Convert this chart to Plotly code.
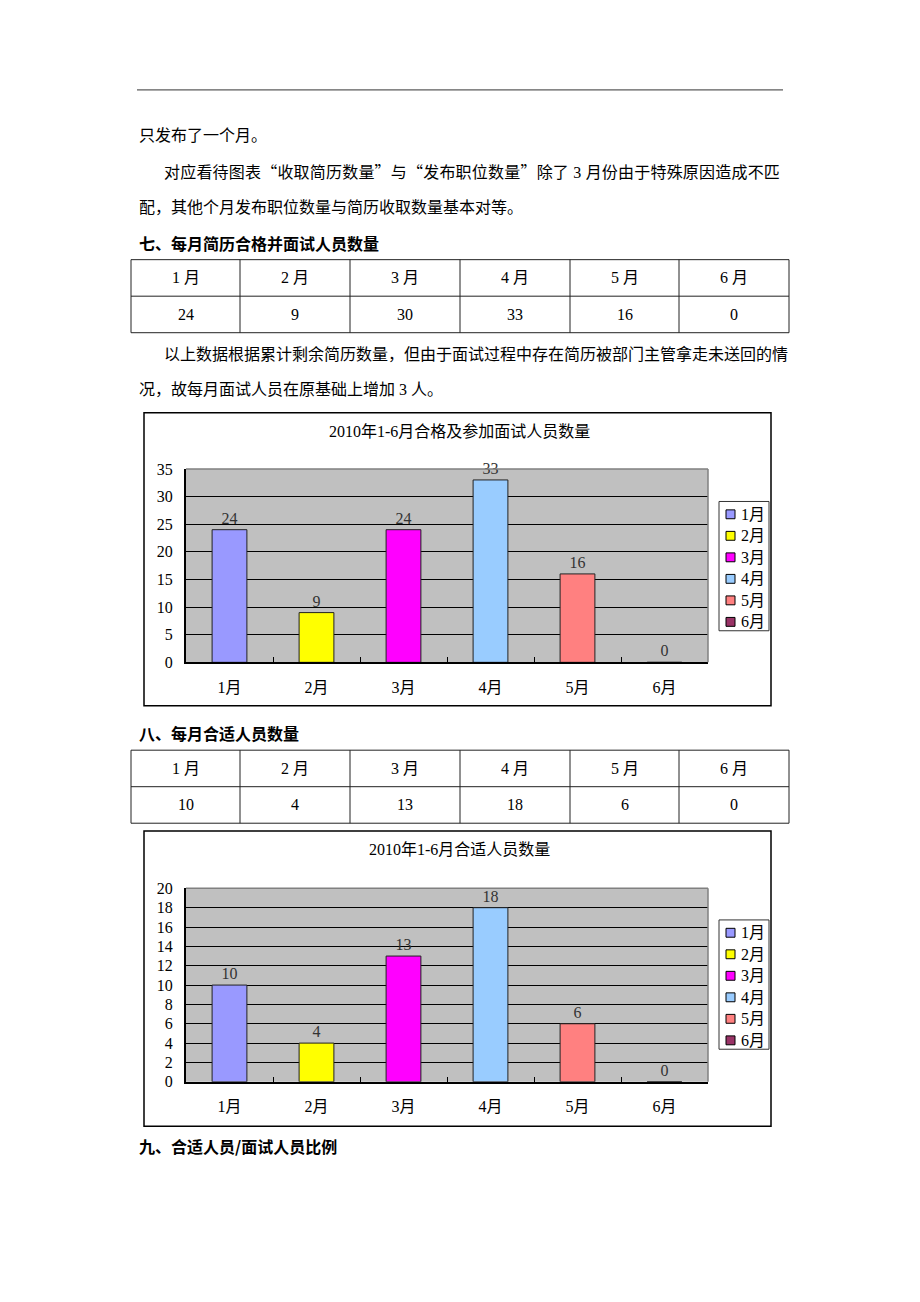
import plotly.graph_objects as go

W, H = 920, 1302

# ---------------- data ----------------
months = ["1月", "2月", "3月", "4月", "5月", "6月"]
table_months = ["1 月", "2 月", "3 月", "4 月", "5 月", "6 月"]
interview_table_values = [24, 9, 30, 33, 16, 0]
interview_chart_values = [24, 9, 24, 33, 16, 0]
suitable_values = [10, 4, 13, 18, 6, 0]
bar_colors = ["#9999FF", "#FFFF00", "#FF00FF", "#99CCFF", "#FF8080", "#993366"]
chart1_title = "2010年1-6月合格及参加面试人员数量"
chart2_title = "2010年1-6月合适人员数量"

QL = '<span style="font-family:Noto Sans CJK SC">“</span>'
QR = '<span style="font-family:Noto Sans CJK SC">”</span>'

body_lines = [
    ("只发布了一个月。", 137, 129, False, 0),
    (f"对应看待图表{QL}收取简历数量{QR}与{QL}发布职位数量{QR}除了 3 月份由于特殊原因造成不匹", 162, 165, False, 0.2),
    ("配，其他个月发布职位数量与简历收取数量基本对等。", 137, 202, False, 0),
    ("七、每月简历合格并面试人员数量", 137, 238, True, 0),
    ("以上数据根据累计剩余简历数量，但由于面试过程中存在简历被部门主管拿走未送回的情", 162, 351, False, 0),
    ("况，故每月面试人员在原基础上增加 3 人。", 137, 387, False, 0),
    ("八、每月合适人员数量", 137, 735, True, 0),
    ("九、合适人员/面试人员比例", 137, 1153, True, 0),
]

SERIF = "Liberation Serif, Noto Sans CJK SC, serif"
SANS_B = "Noto Sans CJK SC, sans-serif"


def fx(x):
    return x / W


def fy(y):
    return 1 - y / H


fig = go.Figure()
shapes = []
annotations = []

# header rule
shapes.append(dict(type="line", xref="paper", yref="paper", x0=fx(137), x1=fx(783),
                   y0=fy(83), y1=fy(83), line=dict(color="#333333", width=1)))

# body text
for txt, x, y, bold, ls in body_lines:
    t = f"<b>{txt}</b>" if bold else txt
    if ls:
        t = f'<span style="letter-spacing:{ls}px">{t}</span>'
    annotations.append(dict(
        text=t, xref="paper", yref="paper",
        x=fx(x), y=fy(y), xanchor="left", yanchor="middle", showarrow=False,
        font=dict(family=SANS_B if bold else SERIF, size=16, color="#000000")))


# tables
def add_table(top, row_h, values):
    cols = [131, 240, 350, 460, 570, 679, 789]
    bottom = top + 2 * row_h
    for yy in (top, top + row_h, bottom):
        shapes.append(dict(type="line", xref="paper", yref="paper", x0=fx(cols[0]), x1=fx(cols[-1]),
                           y0=fy(yy), y1=fy(yy), line=dict(color="#222222", width=1)))
    for xx in cols:
        shapes.append(dict(type="line", xref="paper", yref="paper", x0=fx(xx), x1=fx(xx),
                           y0=fy(top), y1=fy(bottom), line=dict(color="#222222", width=1)))
    for i in range(6):
        cx = (cols[i] + cols[i + 1]) / 2
        annotations.append(dict(text=table_months[i], xref="paper", yref="paper", x=fx(cx),
                                y=fy(top + row_h / 2), xanchor="center", yanchor="middle",
                                showarrow=False, font=dict(family=SERIF, size=16, color="#000")))
        annotations.append(dict(text=str(values[i]), xref="paper", yref="paper", x=fx(cx),
                                y=fy(top + 1.5 * row_h), xanchor="center", yanchor="middle",
                                showarrow=False, font=dict(family=SERIF, size=16, color="#000")))


add_table(255, 37, interview_table_values)
add_table(752, 37, suitable_values)


# charts
def add_chart(idx, values, title, box, plot, ymax, dtick, legend_box):
    xa = "x" if idx == 1 else f"x{idx}"
    ya = "y" if idx == 1 else f"y{idx}"
    for i, m in enumerate(months):
        fig.add_trace(go.Bar(
            x=[m], y=[values[i]], xaxis=xa, yaxis=ya, width=0.4,
            marker=dict(color=bar_colors[i], line=dict(color="#222222", width=1)),
            text=[str(values[i])], textposition="outside", cliponaxis=False,
            textfont=dict(family=SERIF, size=16, color="#333333"),
            showlegend=False, name=m))
    bx0, by0, bx1, by1 = box
    shapes.append(dict(type="rect", xref="paper", yref="paper", x0=fx(bx0), x1=fx(bx1),
                       y0=fy(by0), y1=fy(by1), line=dict(color="#000000", width=1.5)))
    annotations.append(dict(text=title, xref="paper", yref="paper", x=fx((bx0 + bx1) / 2 + 2),
                            y=fy(by0 + 19), xanchor="center", yanchor="middle", showarrow=False,
                            font=dict(family=SERIF, size=16, color="#000")))
    px0, py0, px1, py1 = plot
    axkey_x = "xaxis" if idx == 1 else f"xaxis{idx}"
    axkey_y = "yaxis" if idx == 1 else f"yaxis{idx}"
    fig.update_layout(**{
        axkey_x: dict(domain=[fx(px0), fx(px1)], anchor=ya, type="category",
                      categoryorder="array", categoryarray=months, range=[-0.5, 5.5],
                      showline=True, linecolor="#000", linewidth=2, ticks="inside",
                      tickson="boundaries", ticklen=5, tickcolor="#000", tickwidth=1,
                      showgrid=False, ticklabelstandoff=9,
                      tickfont=dict(family=SERIF, size=16, color="#000"), fixedrange=True),
        axkey_y: dict(domain=[fy(py1), fy(py0)], anchor=xa, range=[0, ymax], dtick=dtick,
                      showline=True, linecolor="#000", linewidth=2, ticks="",
                      showgrid=True, gridcolor="#000000", gridwidth=1.2, zeroline=False,
                      ticklabelstandoff=8,
                      tickfont=dict(family=SERIF, size=16, color="#000"), fixedrange=True),
    })
    # top/right plot frame in grey
    shapes.append(dict(type="line", xref=f"{xa} domain", yref=f"{ya} domain", x0=0, x1=1, y0=1, y1=1,
                       line=dict(color="#808080", width=1.5)))
    shapes.append(dict(type="line", xref=f"{xa} domain", yref=f"{ya} domain", x0=1, x1=1, y0=0, y1=1,
                       line=dict(color="#808080", width=1.5)))
    # legend (keys built from months / colours)
    lx0, ly0, lx1, ly1 = legend_box
    shapes.append(dict(type="rect", xref="paper", yref="paper", x0=fx(lx0), x1=fx(lx1),
                       y0=fy(ly0), y1=fy(ly1), line=dict(color="#333333", width=1),
                       fillcolor="#ffffff"))
    step = (ly1 - ly0 - 22) / 5
    for i, m in enumerate(months):
        cy = ly0 + 13 + i * step
        shapes.append(dict(type="rect", xref="paper", yref="paper", x0=fx(726), x1=fx(735),
                           y0=fy(cy - 4.5), y1=fy(cy + 4.5), fillcolor=bar_colors[i],
                           line=dict(color="#000", width=1)))
        annotations.append(dict(text=m, xref="paper", yref="paper", x=fx(739), y=fy(cy),
                                xanchor="left", yanchor="middle", showarrow=False,
                                font=dict(family=SERIF, size=16, color="#000")))


add_chart(1, interview_chart_values, chart1_title, (144, 410, 771, 707), (186, 467, 708, 663),
          35, 5, (719, 500, 769, 631))
add_chart(2, suitable_values, chart2_title, (144, 834, 771, 1133), (186, 892, 708, 1088),
          20, 2, (719, 924, 769, 1055))

fig.update_layout(
    width=W, height=H, autosize=False,
    margin=dict(l=0, r=0, t=0, b=0),
    paper_bgcolor="#ffffff", plot_bgcolor="#c0c0c0",
    barmode="overlay", showlegend=False,
    shapes=shapes, annotations=annotations,
)

fig.write_html("out.html", config={"displayModeBar": False})
